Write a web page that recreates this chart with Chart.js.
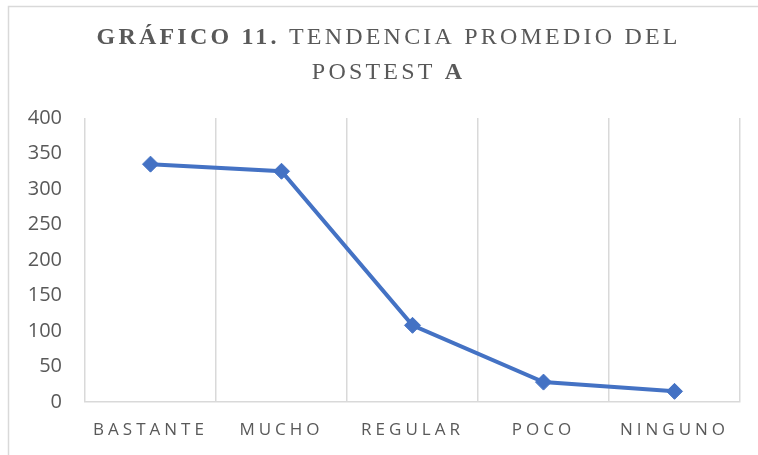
<!DOCTYPE html>
<html>
<head>
<meta charset="utf-8">
<script src="https://cdn.jsdelivr.net/npm/chart.js@4/dist/chart.umd.min.js"></script>
<style>
html, body { margin: 0; padding: 0; background: #ffffff; }
#wrap { width: 758px; height: 455px; position: relative; }
</style>
</head>
<body>
<div id="wrap"><canvas id="c" width="758" height="455"></canvas></div>
<script>
// ---- data ----
const categories = ['BASTANTE', 'MUCHO', 'REGULAR', 'POCO', 'NINGUNO'];
const promedio = [335, 325, 108, 28, 15];
const yTicks = [0, 50, 100, 150, 200, 250, 300, 350, 400];
const titleLine1 = [['GRÁFICO 11.', 'bold'], [' TENDENCIA PROMEDIO DEL', 'normal']];
const titleLine2 = [['POSTEST ', 'normal'], ['A', 'bold']];

// category scale that draws its labels letter-spaced
class SpacedCategoryScale extends Chart.CategoryScale {
  drawLabels(chartArea) {
    const ctx = this.ctx;
    ctx.save();
    ctx.letterSpacing = '4px';
    super.drawLabels(chartArea);
    ctx.restore();
  }
}
SpacedCategoryScale.id = 'spacedCategory';
SpacedCategoryScale.defaults = Chart.CategoryScale.defaults;
Chart.register(SpacedCategoryScale);

const framePlugin = {
  id: 'frame',
  beforeDraw(chart) {
    const ctx = chart.ctx;
    ctx.save();
    ctx.strokeStyle = '#d9d9d9';
    ctx.lineWidth = 1.5;
    ctx.beginPath();
    ctx.moveTo(8.5, 455);
    ctx.lineTo(8.5, 6.5);
    ctx.lineTo(758, 6.5);
    ctx.stroke();
    ctx.restore();
  }
};

function drawRuns(ctx, runs, cx, baseline, size, spacing) {
  const fam = '"Liberation Serif", "Times New Roman", serif';
  let total = 0;
  const widths = runs.map(([t, w]) => {
    ctx.font = w + ' ' + size + 'px ' + fam;
    ctx.letterSpacing = '0px';
    const wd = ctx.measureText(t).width + spacing * t.length;
    total += wd;
    return wd;
  });
  total -= spacing;
  let x = cx - total / 2;
  runs.forEach(([t, w], i) => {
    ctx.font = w + ' ' + size + 'px ' + fam;
    ctx.letterSpacing = spacing + 'px';
    ctx.fillText(t, x, baseline);
    x += widths[i];
  });
}

const titlePlugin = {
  id: 'mixedTitle',
  afterDraw(chart) {
    const ctx = chart.ctx;
    ctx.save();
    ctx.fillStyle = '#595959';
    ctx.textAlign = 'left';
    ctx.textBaseline = 'alphabetic';
    drawRuns(ctx, titleLine1, 387, 44, 24, 3.2);
    drawRuns(ctx, titleLine2, 387, 79, 24, 3.2);
    ctx.restore();
  }
};

new Chart(document.getElementById('c'), {
  type: 'line',
  data: {
    labels: categories,
    datasets: [{
      data: promedio,
      borderColor: '#4472C4',
      backgroundColor: '#4472C4',
      borderWidth: 4,
      pointStyle: 'rectRot',
      pointRadius: 8,
      pointHoverRadius: 8,
      pointBorderWidth: 1,
      pointBackgroundColor: '#4472C4',
      pointBorderColor: '#4472C4',
      tension: 0,
      fill: false
    }]
  },
  options: {
    responsive: false,
    animation: false,
    events: [],
    layout: { padding: { left: 0, right: 18, top: 118, bottom: 0 } },
    plugins: {
      legend: { display: false },
      title: { display: false },
      tooltip: { enabled: false }
    },
    scales: {
      x: {
        type: 'spacedCategory',
        offset: true,
        grid: { display: true, offset: true, color: '#d9d9d9', lineWidth: 1.5, drawTicks: false },
        border: { display: true, color: '#d9d9d9', width: 1.5 },
        ticks: {
          color: '#595959',
          padding: 18,
          maxRotation: 0,
          autoSkip: false,
          font: { family: '"Open Sans", sans-serif', size: 17 }
        },
        afterFit(s) { s.height = 53; }
      },
      y: {
        min: 0,
        max: 400,
        grid: { display: false, drawTicks: false },
        border: { display: false },
        afterBuildTicks(s) { s.ticks = yTicks.map(v => ({ value: v })); },
        ticks: {
          color: '#595959',
          padding: 23,
          font: { family: '"Open Sans", sans-serif', size: 20 }
        },
        afterFit(s) { s.width = 85; }
      }
    }
  },
  plugins: [framePlugin, titlePlugin]
});
</script>
</body>
</html>
